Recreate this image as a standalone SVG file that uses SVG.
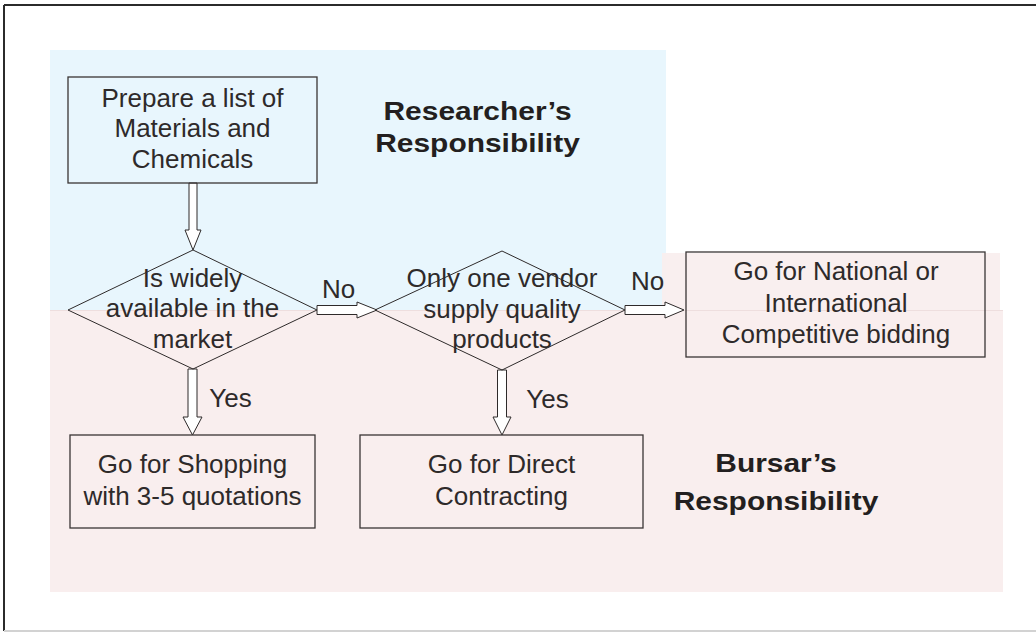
<svg xmlns="http://www.w3.org/2000/svg" width="1036" height="632" viewBox="0 0 1036 632">
<style>
.box{fill:none;stroke:#3a3535;stroke-width:1.3}
.dia{fill:none;stroke:#2e2a2a;stroke-width:1}
.arr{fill:#ffffff;stroke:#2e2a2a;stroke-width:1}
.t{font-family:"Liberation Sans",Arial,sans-serif;font-size:25px;fill:#2e2a2a;text-anchor:middle}
.b{font-family:"Liberation Sans",Arial,sans-serif;font-size:26.5px;font-weight:bold;fill:#231f20;text-anchor:middle}
</style>
<rect x="0" y="0" width="1036" height="632" fill="#ffffff"/>
<g id="frame">
<line x1="4" y1="5" x2="1036" y2="5" stroke="#2b2b2b" stroke-width="2"/>
<line x1="4" y1="5" x2="4" y2="631" stroke="#2b2b2b" stroke-width="2"/>
<line x1="4" y1="631" x2="1036" y2="631" stroke="#d2d2d2" stroke-width="2"/>
</g>
<g id="lanes">
<rect x="50" y="50" width="616" height="260" fill="#e8f6fd"/>
<rect x="662" y="253" width="338" height="57" fill="#f9eeee" fill-opacity="0.92"/>
<rect x="50" y="310" width="953" height="282" fill="#f9eeee"/>
<line x1="50" y1="310.5" x2="1003" y2="310.5" stroke="#eedede" stroke-width="1"/>
</g>
<g id="label-researcher">
<text class="b" transform="translate(477.5 0) scale(1.13 1)"><tspan x="0" y="120">Researcher’s</tspan><tspan x="0" y="152">Responsibility</tspan></text>
</g>
<g id="label-bursar">
<text class="b" transform="translate(776 0) scale(1.13 1)"><tspan x="0" y="472">Bursar’s</tspan><tspan x="0" y="510">Responsibility</tspan></text>
</g>
<g id="connectors">
<path class="arr" d="M189,183 V230 H185 L193,250 L201,230 H197 V183 Z"/>
<path class="arr" d="M317,305.5 H357 V302 L377,310 L357,318 V314.5 H317 Z"/>
<path class="arr" d="M625,305.5 H665 V302 L684,310 L665,318 V314.5 H625 Z"/>
<path class="arr" d="M188,369 V417 H183 L192.5,435 L202,417 H197 V369 Z"/>
<path class="arr" d="M497.5,370 V417 H493 L502,435 L511,417 H506.5 V370 Z"/>
<text class="t" transform="translate(338.5 0) scale(1.04 1)" x="0" y="298">No</text>
<text class="t" transform="translate(647.5 0) scale(1.04 1)" x="0" y="290">No</text>
<text class="t" transform="translate(230.5 0) scale(1.04 1)" x="0" y="407">Yes</text>
<text class="t" transform="translate(547.5 0) scale(1.04 1)" x="0" y="408">Yes</text>
</g>
<g id="prepare">
<rect class="box" x="68" y="77" width="249" height="106"/>
<text class="t" transform="translate(192.5 0) scale(1.04 1)"><tspan x="0" y="107">Prepare a list of</tspan><tspan x="0" y="137">Materials and</tspan><tspan x="0" y="168">Chemicals</tspan></text>
</g>
<g id="widely">
<polygon class="dia" points="193,250 317,310 193,369 68,310"/>
<text class="t" transform="translate(192.5 0) scale(1.04 1)"><tspan x="0" y="287">Is widely</tspan><tspan x="0" y="317">available in the</tspan><tspan x="0" y="348">market</tspan></text>
</g>
<g id="onevendor">
<polygon class="dia" points="502,251 625,310 502,370 375,310"/>
<text class="t" transform="translate(502 0) scale(1.04 1)"><tspan x="0" y="287">Only one vendor</tspan><tspan x="0" y="318">supply quality</tspan><tspan x="0" y="348">products</tspan></text>
</g>
<g id="national">
<rect class="box" x="686" y="252" width="299" height="105"/>
<text class="t" transform="translate(836 0) scale(1.04 1)"><tspan x="0" y="280">Go for National or</tspan><tspan x="0" y="312">International</tspan><tspan x="0" y="343">Competitive bidding</tspan></text>
</g>
<g id="shopping">
<rect class="box" x="70" y="435" width="245" height="93"/>
<text class="t" transform="translate(192.5 0) scale(1.04 1)"><tspan x="0" y="473">Go for Shopping</tspan><tspan x="0" y="505">with 3-5 quotations</tspan></text>
</g>
<g id="direct">
<rect class="box" x="360" y="435" width="283" height="93"/>
<text class="t" transform="translate(501.5 0) scale(1.04 1)"><tspan x="0" y="473">Go for Direct</tspan><tspan x="0" y="505">Contracting</tspan></text>
</g>
</svg>
